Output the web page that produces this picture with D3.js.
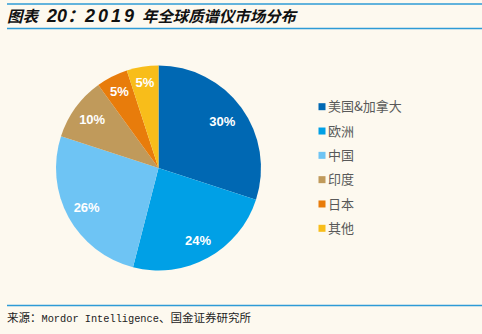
<!DOCTYPE html>
<html><head><meta charset="utf-8">
<script src="https://cdn.jsdelivr.net/npm/d3@7"></script>
<style>html,body{margin:0;padding:0;background:#FDF9EF;}svg{display:block;}</style>
</head><body>
<script>
const categories = ["美国&加拿大","欧洲","中国","印度","日本","其他"];
const values = [30,24,26,10,5,5];
const labels = ["30%","24%","26%","10%","5%","5%"];
const colors = ["#0068B3","#00A0E6","#6EC4F4","#C09A5B","#E87C0B","#F8BD1A"];
const titleParts = ["图表","20：","2019","年全球质谱仪市场分布"];
const sourceParts = [["来源：",false],["Mordor Intelligence",true],["、国金证券研究所",false]];

const W=482,H=334;
const svg=d3.select("body").append("svg").attr("width",W).attr("height",H);
svg.append("rect").attr("width",W).attr("height",H).attr("fill","#FDF9EF");

// header lines
svg.append("line").attr("x1",7).attr("x2",W).attr("y1",4).attr("y2",4).attr("stroke","#2E9BD6").attr("stroke-width",1.6);
svg.append("line").attr("x1",7).attr("x2",W).attr("y1",28.5).attr("y2",28.5).attr("stroke","#2E9BD6").attr("stroke-width",1.6);
const tt=svg.append("text").attr("y",21.5)
  .attr("font-family","'Liberation Sans','Noto Sans CJK SC',sans-serif")
  .attr("font-weight","bold").attr("font-style","italic").attr("fill","#111");
const tx=[7,47,85,142], tfs=[15.5,18,18,15.4], tls=[0,0,3,0];
titleParts.forEach((t,i)=>{
  tt.append("tspan").attr("x",tx[i]).attr("font-size",tfs[i]).attr("letter-spacing",tls[i]).text(t);
});

// footer
svg.append("line").attr("x1",7).attr("x2",W).attr("y1",305.5).attr("y2",305.5).attr("stroke","#2E9BD6").attr("stroke-width",1.3);
const st=svg.append("text").attr("x",7).attr("y",322)
  .attr("font-family","'Liberation Mono','Noto Sans CJK SC',monospace").attr("fill","#222");
sourceParts.forEach(([t,latin])=>{
  st.append("tspan").text(t).attr("font-size",latin?10.3:11.5);
});

// pie
const cx=158.5, cy=168, r=102.5;
const pie=d3.pie().sort(null).value(d=>d)(values);
const arc=d3.arc().innerRadius(0).outerRadius(r);
const g=svg.append("g").attr("transform",`translate(${cx},${cy})`);
g.selectAll("path").data(pie).join("path").attr("d",arc).attr("fill",(d,i)=>colors[i]);
const lr=[0.77,0.8,0.8,0.8,0.84,0.85];
g.selectAll("text").data(pie).join("text")
  .attr("transform",(d,i)=>{const a=d3.arc().innerRadius(r*lr[i]).outerRadius(r*lr[i]);return `translate(${a.centroid(d)})`;})
  .attr("text-anchor","middle").attr("dy","0.36em")
  .attr("font-family","'Liberation Sans',Arial,sans-serif").attr("font-weight","bold").attr("font-size",13)
  .attr("fill","#fff").text((d,i)=>labels[i]);

// legend
const ly=d3.scalePoint().domain(categories).range([106.7,228.3]);
const lg=svg.append("g");
categories.forEach((c,i)=>{
  lg.append("rect").attr("x",318.5).attr("y",ly(c)-3.5).attr("width",7).attr("height",7).attr("fill",colors[i]);
  lg.append("text").attr("x",328).attr("y",ly(c)).attr("dy","0.36em").text(c)
    .attr("font-family","'Noto Sans CJK SC',sans-serif").attr("font-size",13).attr("fill","#595959");
});
</script>
</body></html>
